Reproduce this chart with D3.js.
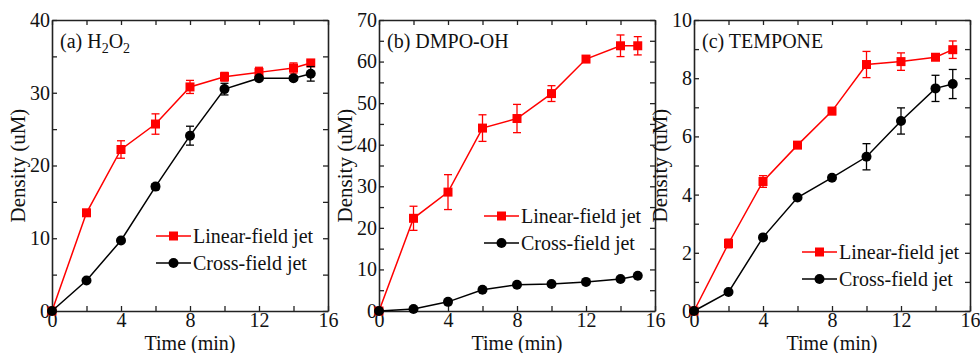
<!DOCTYPE html>
<html>
<head>
<meta charset="utf-8">
<script src="https://cdn.jsdelivr.net/npm/d3@7"></script>
<style>
  body { margin: 0; background: #fff; }
  svg text { font-family: "Liberation Serif", "Times New Roman", "DejaVu Serif", serif; fill: #111; }
</style>
</head>
<body>
<svg id="chart" width="980" height="353"></svg>
<script>
// time points (min)
const times = [0, 2, 4, 6, 8, 10, 12, 14, 15];

// (a) H2O2
const h2o2Linear = [0, 13.5, 22.2, 25.7, 30.8, 32.2, 32.8, 33.4, 34.1];
const h2o2LinearErr = [0, 0.3, 1.2, 1.4, 0.9, 0.6, 0.7, 0.7, 0.3];
const h2o2Cross = [0, 4.2, 9.7, 17.1, 24.1, 30.5, 32.0, 32.0, 32.6];
const h2o2CrossErr = [0, 0, 0, 0.4, 1.3, 0.8, 0.3, 0.3, 1.0];

// (b) DMPO-OH
const dmpoLinear = [0, 22.3, 28.6, 44.0, 46.3, 52.3, 60.6, 63.8, 63.8];
const dmpoLinearErr = [0, 2.9, 4.2, 3.2, 3.4, 1.9, 0.5, 2.6, 2.2];
const dmpoCross = [0, 0.5, 2.2, 5.1, 6.3, 6.5, 7.0, 7.7, 8.5];
const dmpoCrossErr = [0, 0, 0, 0, 0, 0, 0, 0, 0];

// (c) TEMPONE
const tempLinear = [0, 2.32, 4.45, 5.7, 6.87, 8.47, 8.57, 8.72, 8.98];
const tempLinearErr = [0, 0.15, 0.2, 0.05, 0.12, 0.45, 0.3, 0.08, 0.3];
const tempCross = [0, 0.65, 2.53, 3.9, 4.58, 5.3, 6.53, 7.65, 7.8];
const tempCrossErr = [0, 0, 0, 0, 0, 0.45, 0.45, 0.45, 0.5];

const xTicks = [0, 2, 4, 6, 8, 10, 12, 14, 16];
const seriesNames = ['Linear-field jet', 'Cross-field jet'];

const panels = [
  {
    title: ['(a) H', '2', 'O', '2'], yMax: 40, yStep: 5, yLabelStep: 10,
    linear: h2o2Linear, linearErr: h2o2LinearErr, cross: h2o2Cross, crossErr: h2o2CrossErr,
    left: 52, legend: { x: 104, y: 216 }
  },
  {
    title: ['(b) DMPO-OH'], yMax: 70, yStep: 5, yLabelStep: 10,
    linear: dmpoLinear, linearErr: dmpoLinearErr, cross: dmpoCross, crossErr: dmpoCrossErr,
    left: 379, legend: { x: 105, y: 196 }
  },
  {
    title: ['(c) TEMPONE'], yMax: 10, yStep: 1, yLabelStep: 2,
    linear: tempLinear, linearErr: tempLinearErr, cross: tempCross, crossErr: tempCrossErr,
    left: 694, legend: { x: 108, y: 232 }
  }
];

const plotTop = 20;
const plotW = 276;
const plotH = 291;
const red = '#ff0000';
const black = '#000000';
const serif = '"Liberation Serif", "Times New Roman", "DejaVu Serif", serif';

const svg = d3.select('#chart');

panels.forEach(p => {
  const g = svg.append('g').attr('transform', 'translate(' + p.left + ',' + plotTop + ')');

  const x = d3.scaleLinear().domain([0, 16]).range([0, plotW]);
  const y = d3.scaleLinear().domain([0, p.yMax]).range([plotH, 0]);
  const yTicks = d3.range(0, p.yMax + 0.001, p.yStep);

  const styleAxis = sel => {
    sel.attr('font-family', serif);
    sel.select('.domain').attr('stroke', '#222').attr('stroke-width', 1.6);
    sel.selectAll('.tick line').attr('stroke', '#222').attr('stroke-width', 1.3);
    sel.selectAll('.tick text')
      .style('font-family', serif)
      .style('font-size', '20px')
      .attr('fill', '#111');
  };

  g.append('g')
    .attr('transform', 'translate(0,' + plotH + ')')
    .call(d3.axisBottom(x).tickValues(xTicks).tickSizeInner(-5).tickSizeOuter(0)
      .tickPadding(2).tickFormat(d => (d % 4 === 0 ? d : '')))
    .call(styleAxis);

  g.append('g')
    .call(d3.axisTop(x).tickValues(xTicks).tickSizeInner(-5).tickSizeOuter(0).tickFormat(''))
    .call(styleAxis);

  g.append('g')
    .call(d3.axisLeft(y).tickValues(yTicks).tickSizeInner(-5).tickSizeOuter(0)
      .tickPadding(2).tickFormat(d => (Math.abs(d % p.yLabelStep) < 1e-6 ? d : '')))
    .call(styleAxis);

  g.append('g')
    .attr('transform', 'translate(' + plotW + ',0)')
    .call(d3.axisRight(y).tickValues(yTicks).tickSizeInner(-5).tickSizeOuter(0).tickFormat(''))
    .call(styleAxis);

  // axis titles
  g.append('text')
    .attr('x', plotW / 2)
    .attr('y', plotH + 39)
    .attr('text-anchor', 'middle')
    .style('font-family', serif)
    .style('font-size', '20px')
    .text('Time (min)');

  g.append('text')
    .attr('transform', 'translate(-27,' + plotH / 2 + ') rotate(-90)')
    .attr('text-anchor', 'middle')
    .style('font-family', serif)
    .style('font-size', '21px')
    .text('Density (uM)');

  // panel title
  const t = g.append('text')
    .attr('x', 8)
    .attr('y', 28)
    .style('font-family', serif)
    .style('font-size', '20px');
  p.title.forEach((s, i) => {
    const isSub = p.title.length > 1 && (i === 1 || i === 3);
    t.append('tspan')
      .attr('dy', isSub ? 5 : i > 1 ? -5 : 0)
      .style('font-size', isSub ? '14px' : '20px')
      .text(s);
  });

  const series = [
    { vals: p.linear, err: p.linearErr, color: red, shape: 'square' },
    { vals: p.cross, err: p.crossErr, color: black, shape: 'circle' }
  ];

  const line = d3.line().x(d => x(d[0])).y(d => y(d[1]));

  series.forEach(s => {
    const pts = times.map((tm, i) => [tm, s.vals[i], s.err[i]]);
    const sg = g.append('g');

    sg.append('path')
      .datum(pts)
      .attr('d', line)
      .attr('fill', 'none')
      .attr('stroke', s.color)
      .attr('stroke-width', 1.5);

    const eb = sg.selectAll('g.err')
      .data(pts.filter(d => d[2] > 0))
      .enter()
      .append('g')
      .attr('stroke', s.color)
      .attr('stroke-width', 1.3);
    eb.append('line')
      .attr('x1', d => x(d[0])).attr('x2', d => x(d[0]))
      .attr('y1', d => y(d[1] - d[2])).attr('y2', d => y(d[1] + d[2]));
    eb.append('line')
      .attr('x1', d => x(d[0]) - 4).attr('x2', d => x(d[0]) + 4)
      .attr('y1', d => y(d[1] - d[2])).attr('y2', d => y(d[1] - d[2]));
    eb.append('line')
      .attr('x1', d => x(d[0]) - 4).attr('x2', d => x(d[0]) + 4)
      .attr('y1', d => y(d[1] + d[2])).attr('y2', d => y(d[1] + d[2]));

    if (s.shape === 'square') {
      sg.selectAll('rect')
        .data(pts)
        .enter()
        .append('rect')
        .attr('x', d => x(d[0]) - 4.5)
        .attr('y', d => y(d[1]) - 4.5)
        .attr('width', 9)
        .attr('height', 9)
        .attr('fill', s.color);
    } else {
      sg.selectAll('circle')
        .data(pts)
        .enter()
        .append('circle')
        .attr('cx', d => x(d[0]))
        .attr('cy', d => y(d[1]))
        .attr('r', 5)
        .attr('fill', s.color);
    }
  });

  // legend
  const lg = g.append('g').attr('transform', 'translate(' + p.legend.x + ',' + p.legend.y + ')');
  series.forEach((s, i) => {
    const row = lg.append('g').attr('transform', 'translate(0,' + i * 27 + ')');
    row.append('line')
      .attr('x1', 0).attr('x2', 35)
      .attr('stroke', s.color)
      .attr('stroke-width', 1.5);
    if (s.shape === 'square') {
      row.append('rect').attr('x', 13).attr('y', -4.5).attr('width', 9).attr('height', 9).attr('fill', s.color);
    } else {
      row.append('circle').attr('cx', 17.5).attr('r', 5).attr('fill', s.color);
    }
    row.append('text')
      .attr('x', 37)
      .attr('dy', '0.35em')
      .style('font-family', serif)
      .style('font-size', '20px')
      .text(seriesNames[i]);
  });
});
</script>
</body>
</html>
